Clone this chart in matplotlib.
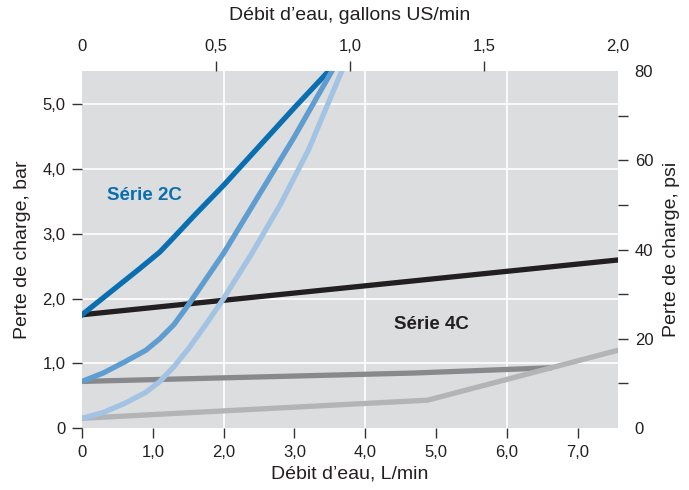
import matplotlib.pyplot as plt

plt.rcParams['font.family'] = ['Liberation Sans', 'DejaVu Sans']

# conversion factors
L_PER_GAL = 3.78541
PSI_PER_BAR = 14.5038

# Série 2C (L/min, bar)
c2_dark_x = [0, 0.4, 0.8, 1.1, 1.3, 1.6, 2.0, 3.0, 3.6]
c2_dark_y = [1.75, 2.1, 2.45, 2.72, 2.95, 3.3, 3.75, 4.95, 5.65]
c2_mid_x = [0, 0.3, 0.6, 0.9, 1.1, 1.3, 1.5, 1.75, 2.0, 2.5, 3.0, 3.6]
c2_mid_y = [0.72, 0.85, 1.02, 1.2, 1.38, 1.6, 1.9, 2.3, 2.7, 3.6, 4.5, 5.65]
c2_light_x = [0, 0.3, 0.6, 0.9, 1.1, 1.3, 1.5, 1.75, 2.0, 2.4, 2.8, 3.2, 3.72]
c2_light_y = [0.15, 0.24, 0.38, 0.55, 0.72, 0.95, 1.22, 1.6, 2.0, 2.7, 3.45, 4.3, 5.65]

# Série 4C
c4_black_x = [0, 7.6]
c4_black_y = [1.75, 2.6]
c4_dark_x = [0, 4.7, 6.6]
c4_dark_y = [0.72, 0.85, 0.93]
c4_light_x = [0, 4.88, 7.6]
c4_light_y = [0.15, 0.43, 1.21]

xmax = 2.0 * L_PER_GAL
ymax = 80 / PSI_PER_BAR

fig = plt.figure(figsize=(6.89, 4.9), dpi=100)
ax = fig.add_axes([0.119, 0.1265, 0.778, 0.7285])
ax.set_facecolor('#dcdddf')
for s in ax.spines.values():
    s.set_visible(False)

# white grid
for gx in [2, 4, 6]:
    ax.axvline(gx, color='white', lw=1.2, zorder=1)
for gy in [1, 2, 3, 4, 5]:
    ax.axhline(gy, color='white', lw=1.2, zorder=1)

lw = 3.8
ax.plot(c4_dark_x, c4_dark_y, color='#88898c', lw=lw, zorder=2)
ax.plot(c4_light_x, c4_light_y, color='#b3b4b6', lw=lw, zorder=3)
ax.plot(c4_black_x, c4_black_y, color='#231f20', lw=lw, zorder=4)
ax.plot(c2_dark_x, c2_dark_y, color='#0a6fb0', lw=lw, zorder=5)
ax.plot(c2_mid_x, c2_mid_y, color='#5f9dd1', lw=lw, zorder=6)
ax.plot(c2_light_x, c2_light_y, color='#a2c3e3', lw=lw, zorder=7)

ax.text(0.35, 3.6, 'Série 2C', color='#0a6fb0', fontsize=13.5,
        fontweight='bold', va='center')
ax.text(4.4, 1.6, 'Série 4C', color='#231f20', fontsize=13.5,
        fontweight='bold', va='center')

ax.set_xlim(0, xmax)
ax.set_ylim(0, ymax)

tick_kw = dict(length=7, width=1, color='#333333', labelsize=12,
               labelcolor='#231f20', pad=5)

# bottom axis
ax.set_xticks([0, 1, 2, 3, 4, 5, 6, 7])
ax.set_xticklabels(['0', '1,0', '2,0', '3,0', '4,0', '5,0', '6,0', '7,0'])
ax.tick_params(axis='x', direction='out', **tick_kw)
ax.xaxis.get_major_ticks()[0].tick1line.set_visible(False)
ax.set_xlabel('Débit d’eau, L/min', fontsize=14, color='#231f20', labelpad=4)

# left axis
ax.set_yticks([0, 1, 2, 3, 4, 5])
ax.set_yticklabels(['0', '1,0', '2,0', '3,0', '4,0', '5,0'])
ax.tick_params(axis='y', direction='out', **tick_kw)
ax.yaxis.get_major_ticks()[0].tick1line.set_visible(False)
ax.set_ylabel('Perte de charge, bar', fontsize=14, color='#231f20', labelpad=8)

# top axis (gallons US/min)
ax_top = ax.twiny()
ax_top.set_xlim(0, 2.0)
ax_top.set_xticks([0, 0.5, 1.0, 1.5, 2.0])
ax_top.set_xticklabels(['0', '0,5', '1,0', '1,5', '2,0'])
ax_top.tick_params(axis='x', direction='out', **tick_kw)
ticks = ax_top.xaxis.get_major_ticks()
ticks[0].tick2line.set_visible(False)
ticks[-1].tick2line.set_visible(False)
ax_top.set_xlabel('Débit d’eau, gallons US/min', fontsize=14, color='#231f20',
                  labelpad=14)
for s in ax_top.spines.values():
    s.set_visible(False)

# right axis (psi)
ax_r = ax.twinx()
ax_r.set_ylim(0, 80)
ax_r.set_yticks([0, 10, 20, 30, 40, 50, 60, 70, 80])
ax_r.set_yticklabels(['0', '', '20', '', '40', '', '60', '', '80'])
ax_r.tick_params(axis='y', direction='out', **tick_kw)
ticks = ax_r.yaxis.get_major_ticks()
ticks[0].tick2line.set_visible(False)
ticks[-1].tick2line.set_visible(False)
ax_r.set_ylabel('Perte de charge, psi', fontsize=14, color='#231f20', labelpad=7)
for s in ax_r.spines.values():
    s.set_visible(False)

fig.savefig('out.png', dpi=100)
